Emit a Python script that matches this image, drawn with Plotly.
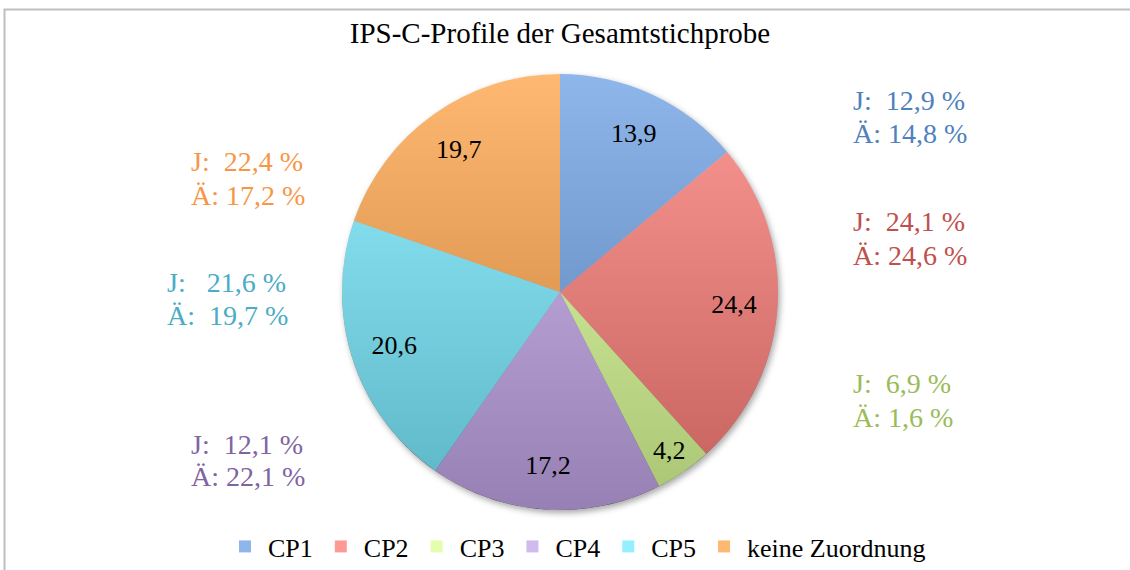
import base64
import plotly.graph_objects as go

# Profile shares of the whole sample (percent)
profiles = ["CP1", "CP2", "CP3", "CP4", "CP5", "keine Zuordnung"]
shares = [13.9, 24.4, 4.2, 17.2, 20.6, 19.7]

# Shares within the two sub-groups (J / Ä), per profile
share_j = [12.9, 24.1, 6.9, 12.1, 21.6, 22.4]
share_ae = [14.8, 24.6, 1.6, 22.1, 19.7, 17.2]

W, H = 1130, 570
FONT = "Liberation Serif"

# slice fills are semi-transparent over a light-to-dark underlay -> vertical shading
ALPHA = 0.72
slice_rgb = [
    (99, 154, 226),
    (254, 115, 109),
    (216, 255, 141),
    (191, 159, 230),
    (108, 233, 255),
    (255, 157, 58),
]
slice_fill = [f"rgba({r},{g},{b},{ALPHA})" for r, g, b in slice_rgb]
text_colors = ["#4f81bd", "#c0504d", "#9bbb59", "#8064a2", "#4bacc6", "#f79646"]

# pie geometry in pixels
cx, cy, R = 560, 292, 218
pie_domain = dict(x=[(cx - R) / W, (cx + R) / W],
                  y=[(H - cy - R) / H, (H - cy + R) / H])

fig = go.Figure()
# coloured slices
fig.add_trace(go.Pie(
    labels=profiles,
    values=shares,
    sort=False,
    direction="clockwise",
    rotation=0,
    marker=dict(colors=slice_fill, line=dict(width=0)),
    textinfo="none",
    hoverinfo="label+value",
    domain=pie_domain,
))
# value labels: a transparent ring on top pushes the labels towards the rim
fig.add_trace(go.Pie(
    labels=profiles,
    values=shares,
    sort=False,
    direction="clockwise",
    rotation=0,
    hole=0.6,
    marker=dict(colors=["rgba(0,0,0,0)"] * len(profiles), line=dict(width=0)),
    texttemplate="%{value:.1f}",
    textposition="inside",
    insidetextorientation="horizontal",
    textfont=dict(family=FONT, size=26, color="black"),
    hoverinfo="skip",
    showlegend=False,
    domain=pie_domain,
))

# shaded disc with soft drop shadow underneath the slices
pad = 14
S = 2 * (R + pad)
svg = f'''<svg xmlns="http://www.w3.org/2000/svg" width="{S}" height="{S}" viewBox="0 0 {S} {S}">
<defs>
<linearGradient id="g" x1="0" y1="0" x2="0" y2="1">
<stop offset="0" stop-color="#ffffff"/><stop offset="1" stop-color="#303030"/>
</linearGradient>
<filter id="f" x="-20%" y="-20%" width="140%" height="140%"><feGaussianBlur stdDeviation="3"/></filter>
</defs>
<circle cx="{R + pad + 2}" cy="{R + pad + 3}" r="{R}" fill="#000" fill-opacity="0.35" filter="url(#f)"/>
<circle cx="{R + pad}" cy="{R + pad}" r="{R}" fill="url(#g)"/>
</svg>'''
uri = "data:image/svg+xml;base64," + base64.b64encode(svg.encode()).decode()
fig.add_layout_image(
    source=uri, xref="paper", yref="paper",
    x=(cx - R - pad) / W, y=(H - (cy - R - pad)) / H,
    sizex=S / W, sizey=S / H, xanchor="left", yanchor="top",
    sizing="stretch", layer="below",
)

# sub-group labels beside the pie: (left x, y of J line, y of Ä line, gap after "J:")
label_pos = [
    (851, 100, 134, "  "),
    (851, 221, 256, "  "),
    (851, 383, 417, "  "),
    (189, 444, 477, "  "),
    (165, 282, 316, "   "),
    (189, 161, 196, "  "),
]


def fmt(v):
    return f"{v:.1f}".replace(".", ",")


for i, (lx, yj, ya, gap) in enumerate(label_pos):
    ae_gap = " " if gap == "  " else "  "
    for txt, yy in ((f"J:{gap}{fmt(share_j[i])} %", yj),
                    (f"Ä:{ae_gap}{fmt(share_ae[i])} %", ya)):
        fig.add_annotation(
            text=txt, xref="paper", yref="paper",
            x=lx / W, y=(H - yy) / H, xanchor="left", yanchor="middle",
            showarrow=False,
            font=dict(family=FONT, size=28, color=text_colors[i]),
        )

# chart frame (top and left edges visible)
fig.add_shape(type="rect", xref="paper", yref="paper",
              x0=4.5 / W, x1=1.02, y0=-0.05, y1=(H - 9.5) / H,
              line=dict(color="#bfbfbf", width=2), layer="below")

fig.update_layout(
    width=W, height=H,
    margin=dict(l=0, r=0, t=0, b=0),
    paper_bgcolor="white",
    plot_bgcolor="white",
    separators=",.",
    title=dict(text="IPS-C-Profile der Gesamtstichprobe",
               x=cx / W, xanchor="center", y=1 - 33 / H, yanchor="middle",
               font=dict(family=FONT, size=29, color="black")),
    showlegend=True,
    legend=dict(orientation="h", x=222 / W, xanchor="left",
                y=0, yanchor="bottom",
                itemwidth=36,
                font=dict(family=FONT, size=26, color="black"),
                bgcolor="rgba(0,0,0,0)"),
)

fig.write_html("out.html")
